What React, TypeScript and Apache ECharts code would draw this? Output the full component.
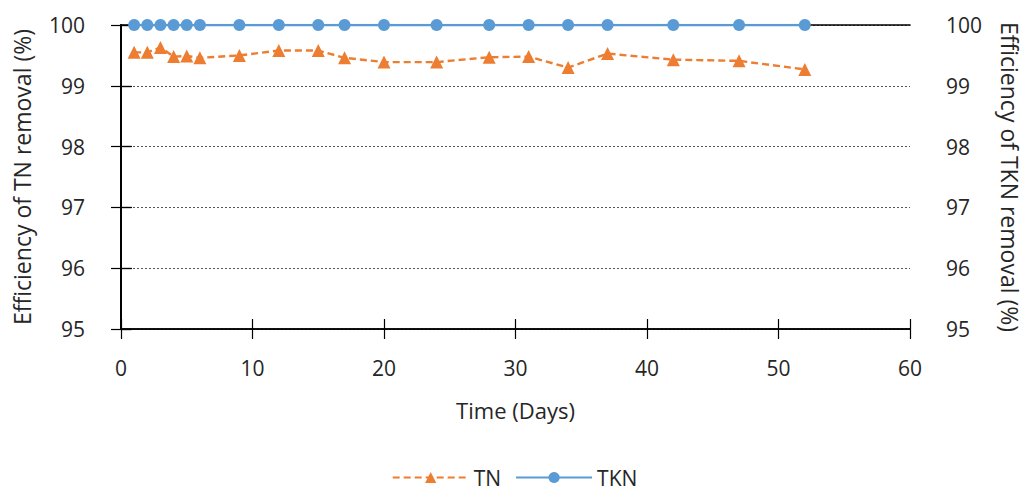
import React, { useEffect, useRef } from "react";
import * as echarts from "echarts";

const days = [1, 2, 3, 4, 5, 6, 9, 12, 15, 17, 20, 24, 28, 31, 34, 37, 42, 47, 52];
const tnValues = [99.55, 99.55, 99.63, 99.48, 99.49, 99.46, 99.5, 99.58, 99.58, 99.46, 99.39, 99.39, 99.47, 99.48, 99.3, 99.53, 99.43, 99.41, 99.27];
const tknValues = [100, 100, 100, 100, 100, 100, 100, 100, 100, 100, 100, 100, 100, 100, 100, 100, 100, 100, 100];
const xTicks = { min: 0, max: 60, interval: 10 };
const yTicks = { min: 95, max: 100, interval: 1 };

const FONT = "'Open Sans', 'Noto Sans', sans-serif";
const TXT = "#262626";

export default function App() {
  const ref = useRef<HTMLDivElement>(null);
  useEffect(() => {
    if (!ref.current) return;
    const chart = echarts.init(ref.current, undefined, { renderer: "svg" });
    const axisLine = { show: true, lineStyle: { color: "#000", width: 1.6 } };
    const baseY = {
      type: "value",
      min: yTicks.min,
      max: yTicks.max,
      interval: yTicks.interval,
    };
    const baseX = {
      type: "value",
      min: xTicks.min,
      max: xTicks.max,
      interval: xTicks.interval,
    };
    chart.setOption({
      animation: false,
      textStyle: { fontFamily: FONT },
      grid: { left: 121, right: 118, top: 25, bottom: 161, containLabel: false },
      legend: {
        bottom: -3,
        left: "center",
        itemWidth: 76,
        itemHeight: 14,
        itemGap: 14,
        textStyle: { fontSize: 21, color: TXT, fontFamily: FONT },
        data: ["TN", "TKN"],
      },
      xAxis: [
        {
          ...baseX,
          position: "bottom",
          name: "Time (Days)",
          nameLocation: "middle",
          nameGap: 70,
          nameTextStyle: { fontSize: 22, color: TXT, fontFamily: FONT },
          axisLine,
          axisTick: { show: true, inside: false, length: 10, lineStyle: { color: "#000", width: 1.2 } },
          axisLabel: { fontSize: 21, color: TXT, margin: 28, fontFamily: FONT },
          splitLine: { show: false },
        },
        {
          ...baseX,
          position: "bottom",
          axisLine,
          axisTick: { show: true, inside: true, length: 10, lineStyle: { color: "#000", width: 1.2 } },
          axisLabel: { show: false },
          splitLine: { show: false },
        },
        {
          ...baseX,
          position: "top",
          axisLine,
          axisTick: { show: false },
          axisLabel: { show: false },
          splitLine: { show: false },
        },
      ],
      yAxis: [
        {
          ...baseY,
          position: "left",
          name: "Efficiency of TN removal (%)",
          nameLocation: "middle",
          nameGap: 88,
          nameTextStyle: { fontSize: 23, color: TXT, fontFamily: FONT },
          axisLine,
          axisTick: { show: true, inside: false, length: 10, lineStyle: { color: "#000", width: 1.2 } },
          axisLabel: { fontSize: 21, color: TXT, margin: 36, fontFamily: FONT },
          splitLine: { show: true, lineStyle: { color: "#555", type: [2, 2], width: 1 } },
        },
        {
          ...baseY,
          position: "right",
          name: "Efficiency of TKN removal (%)",
          nameLocation: "middle",
          nameGap: 88,
          nameRotate: -90,
          nameTextStyle: { fontSize: 23, color: TXT, fontFamily: FONT },
          axisLine,
          axisTick: { show: true, inside: false, length: 11, lineStyle: { color: "#000", width: 1.2 } },
          axisLabel: { fontSize: 21, color: TXT, margin: 36, fontFamily: FONT },
          splitLine: { show: false },
        },
        {
          ...baseY,
          position: "left",
          axisLine,
          axisTick: { show: true, inside: true, length: 10, lineStyle: { color: "#000", width: 1.2 } },
          axisLabel: { show: false },
          splitLine: { show: false },
        },
      ],
      series: [
        {
          name: "TN",
          type: "line",
          xAxisIndex: 0,
          yAxisIndex: 0,
          data: days.map((d, i) => [d, tnValues[i]]),
          symbol: "triangle",
          symbolSize: 13,
          itemStyle: { color: "#ED7D31" },
          lineStyle: { color: "#ED7D31", width: 2.4, type: [7, 4] },
          z: 3,
        },
        {
          name: "TKN",
          type: "line",
          xAxisIndex: 0,
          yAxisIndex: 1,
          data: days.map((d, i) => [d, tknValues[i]]),
          symbol: "circle",
          symbolSize: 12,
          itemStyle: { color: "#5B9BD5" },
          lineStyle: { color: "#5B9BD5", width: 2.4 },
          z: 4,
        },
      ],
    });
    return () => chart.dispose();
  }, []);
  return (
    <div
      ref={ref}
      style={{ position: "fixed", left: 0, top: 0, width: 1029, height: 490, background: "#fff" }}
    />
  );
}
